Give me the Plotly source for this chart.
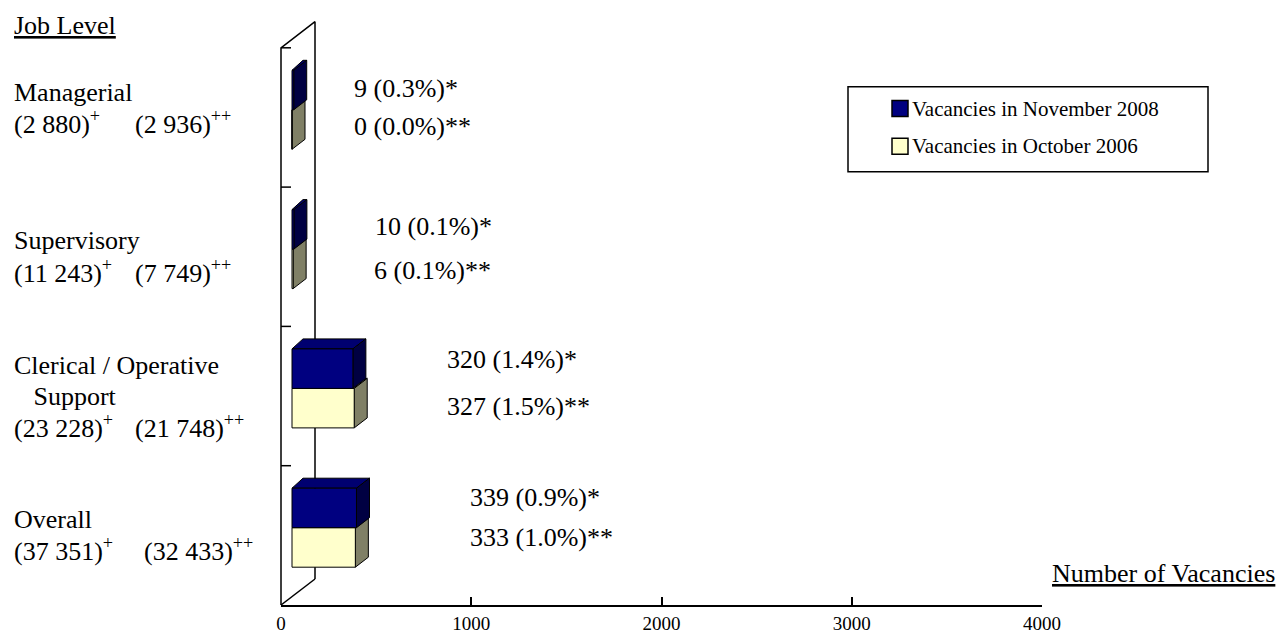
import plotly.graph_objects as go

# ---- data -------------------------------------------------------------
categories = ["Managerial", "Supervisory", "Clerical / Operative Support", "Overall"]
cat_lines = [["Managerial"], ["Supervisory"], ["Clerical / Operative", "   Support"], ["Overall"]]
vac_nov_2008 = [9, 10, 320, 339]
vac_oct_2006 = [0, 6, 327, 333]
pct_nov_2008 = ["0.3%", "0.1%", "1.4%", "0.9%"]
pct_oct_2006 = ["0.0%", "0.1%", "1.5%", "1.0%"]
staff_2008 = ["2 880", "11 243", "23 228", "37 351"]
staff_2006 = ["2 936", "7 749", "21 748", "32 433"]
x_ticks = [0, 1000, 2000, 3000, 4000]
series_names = ["Vacancies in November 2008", "Vacancies in October 2006"]

# ---- geometry (pixels of a 1281 x 632 canvas) ------------------------
W, H = 1281, 632
X0_PX, XMAX_PX = 281, 1042          # value 0 and 4000 on the front axis
PX = 4000 / (XMAX_PX - X0_PX)       # value units per pixel
AXIS_PY = 605                       # baseline of the category axis
BAND_PX = 139.3                     # height of one category band


def xv(px):
    return (px - X0_PX) * PX


def yv(py):
    return (AXIS_PY - py) / BAND_PX


FONT = "Liberation Serif, Times New Roman, serif"
NAVY, NAVY_TOP, NAVY_SIDE = "#000080", "#000070", "#000042"
CREAM, CREAM_TOP, CREAM_SIDE = "#FFFFCC", "#CCCCA3", "#808066"

BAR_X0 = xv(292)                    # bars stand slightly off the back wall
BAR_H = 39.5 / BAND_PX
GROUP_OFF = 7.65 / BAND_PX
DXL, DXR, DY = 11 * PX, 13 * PX, 10 / BAND_PX

fig = go.Figure()

# back wall of the 3-D frame
wall_x = [0, 0, xv(315), xv(315), None, 0, xv(315)]
wall_y = [0, 4, yv(21.7), yv(579), None, 0, yv(579)]
for k in range(1, 5):
    wall_x += [None, 0, xv(291)]
    wall_y += [None, k, k]
fig.add_trace(go.Scatter(x=wall_x, y=wall_y, mode="lines",
                         line=dict(color="black", width=1.5),
                         hoverinfo="skip", showlegend=False))


def faces(values, lower):
    front_x, front_y, top_x, top_y, side_x, side_y = [], [], [], [], [], []
    for k, v in enumerate(values):
        c = 3.5 - k
        y1 = c + GROUP_OFF + (0 if lower else BAR_H)
        y0 = y1 - BAR_H
        x0, x1 = BAR_X0, BAR_X0 + v
        front_x += [x0, x1, x1, x0, x0, None]
        front_y += [y0, y0, y1, y1, y0, None]
        top_x += [x0, x1, x1 + DXR, x0 + DXL, x0, None]
        top_y += [y1, y1, y1 + DY, y1 + DY, y1, None]
        side_x += [x1, x1 + DXR, x1 + DXR, x1, x1, None]
        side_y += [y0, y0 + DY, y1 + DY, y1, y0, None]
    return (top_x, top_y), (side_x, side_y), (front_x, front_y)


for values, lower, cols, name in [
    (vac_oct_2006, True, (CREAM_TOP, CREAM_SIDE, CREAM), series_names[1]),
    (vac_nov_2008, False, (NAVY_TOP, NAVY_SIDE, NAVY), series_names[0]),
]:
    for (fx, fy), col in zip(faces(values, lower), cols):
        fig.add_trace(go.Scatter(x=fx, y=fy, mode="lines", fill="toself",
                                 fillcolor=col, line=dict(color="black", width=1),
                                 name=name, hoverinfo="skip", showlegend=False))

# value axis, drawn on its own overlay subplot spanning 0..4000
fig.add_trace(go.Scatter(x=[0, 4000], y=[0, 0], xaxis="x2", yaxis="y2",
                         mode="markers", marker=dict(opacity=0),
                         hoverinfo="skip", showlegend=False))

annotations = []


def label(px, py, text, size, anchor="left"):
    annotations.append(dict(x=xv(px), y=yv(py), xref="x", yref="y", text=text,
                            showarrow=False, xanchor=anchor, yanchor="middle",
                            font=dict(family=FONT, size=size, color="black")))


# data labels
lab_x = [[352, 352], [373, 372], [445, 445], [468, 468]]
lab_y = [[88, 126], [226, 270], [359, 406], [497, 537]]
for k in range(4):
    label(lab_x[k][0], lab_y[k][0], f"{vac_nov_2008[k]} ({pct_nov_2008[k]})*", 26)
    label(lab_x[k][1], lab_y[k][1], f"{vac_oct_2006[k]} ({pct_oct_2006[k]})**", 26)

# category labels
name_y = [[92], [240], [365, 396], [519]]
count_y = [122, 271, 426, 549]
count2_x = [133, 133, 133, 142]
label(12, 25, "<u>Job Level</u>", 26)
for k in range(4):
    for line, py in zip(cat_lines[k], name_y[k]):
        label(12, py, line.replace(" ", "\u00a0"), 26)
    label(12, count_y[k], f"({staff_2008[k]})<sup>+</sup>", 26)
    label(count2_x[k], count_y[k], f"({staff_2006[k]})<sup>++</sup>", 26)

label(1050, 573, "<u>Number of Vacancies</u>", 26)

# legend
shapes = [dict(type="rect", xref="x", yref="y", x0=xv(848), x1=xv(1208),
               y0=yv(86.7), y1=yv(171.7), line=dict(color="black", width=1.5),
               fillcolor="white", layer="below")]
for py, col, name in [(108.5, NAVY, series_names[0]), (146.3, CREAM, series_names[1])]:
    shapes.append(dict(type="rect", xref="x", yref="y", x0=xv(892), x1=xv(908),
                       y0=yv(py + 8), y1=yv(py - 8), fillcolor=col,
                       line=dict(color="black", width=1.5)))
    label(910, py, name, 21)

fig.update_layout(
    width=W, height=H, autosize=False,
    margin=dict(l=0, r=0, t=0, b=H - AXIS_PY, pad=0, autoexpand=False),
    paper_bgcolor="white", plot_bgcolor="rgba(0,0,0,0)",
    showlegend=False,
    xaxis=dict(range=[xv(0), xv(W)], visible=False, domain=[0, 1]),
    yaxis=dict(range=[yv(AXIS_PY), yv(0)], visible=False, domain=[0, 1]),
    xaxis2=dict(domain=[X0_PX / W, XMAX_PX / W], range=[0, 4000], anchor="y2",
                showline=True, linecolor="black", linewidth=1.5,
                ticks="inside", ticklen=8, tickwidth=1.5, tickcolor="black",
                tickvals=x_ticks, ticktext=[str(t) for t in x_ticks],
                tickfont=dict(family=FONT, size=19, color="black"),
                showgrid=False, zeroline=False),
    yaxis2=dict(domain=[0, 1], range=[0, 1], anchor="x2", visible=False),
    annotations=annotations,
    shapes=shapes,
)

fig.write_html("out.html")
